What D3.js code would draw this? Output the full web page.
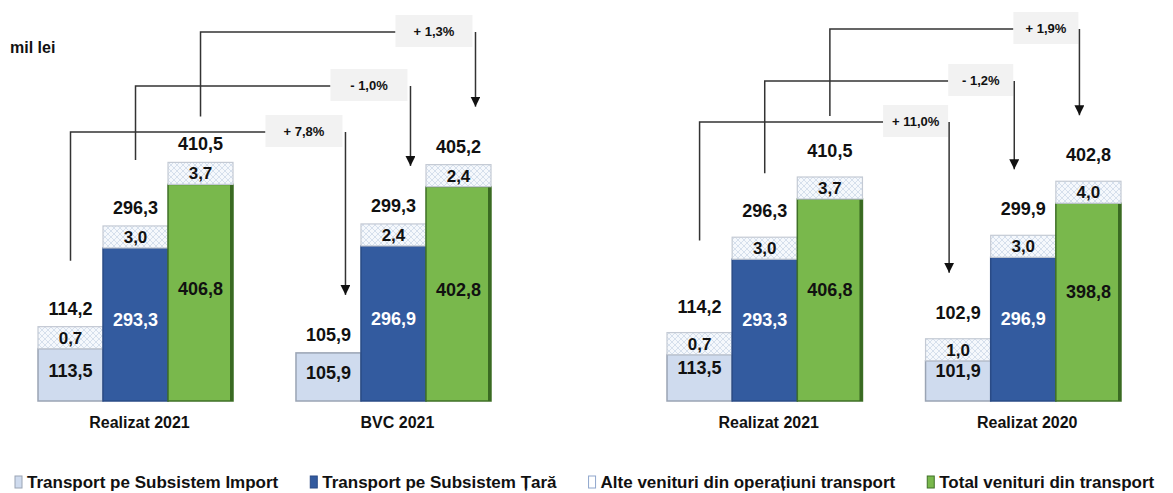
<!DOCTYPE html>
<html>
<head>
<meta charset="UTF-8"/>
<title>Venituri din transport</title>
<script src="https://cdn.jsdelivr.net/npm/d3@7"></script>
<style>
  body { margin: 0; background: #fff; }
  svg { display: block; }
  text { font-family: 'Liberation Sans', Arial, sans-serif; font-weight: bold; fill: #111; }
  .seg-label { font-size: 18px; }
  .box-label { font-size: 17px; }
  .tot-label { font-size: 18px; }
  .cat-label { font-size: 16px; }
  .pct-label { font-size: 13px; }
  .legend text { font-size: 17px; }
  .conn { fill: none; stroke: #333; stroke-width: 1.5; }
</style>
</head>
<body>
<svg id="chart" width="1173" height="493"></svg>
<script>
// categories, two panels of two groups each
const categories = ['Realizat 2021', 'BVC 2021', 'Realizat 2021', 'Realizat 2020'];
const seriesNames = ['Transport pe Subsistem Import', 'Transport pe Subsistem Țară',
                     'Alte venituri din operațiuni transport', 'Total venituri din transport'];
// main segment values (mil lei)
const importVals = [113.5, 105.9, 113.5, 101.9];
const taraVals   = [293.3, 296.9, 293.3, 296.9];
const totalVals  = [406.8, 402.8, 406.8, 398.8];
// "alte venituri" on top of each bar
const alteImport = [0.7, 0.0, 0.7, 1.0];
const alteTara   = [3.0, 2.4, 3.0, 3.0];
const alteTotal  = [3.7, 2.4, 3.7, 4.0];

const fmt = v => v.toFixed(1).replace('.', ',');
const fmtPct = v => (v >= 0 ? '+ ' : '- ') + Math.abs(v).toFixed(1).replace('.', ',') + '%';

const svg = d3.select('#chart');
const base = 401;
const boxH = 22;   // alte segments are drawn with a fixed visible height

const defs = svg.append('defs');
const pat = defs.append('pattern').attr('id', 'hatch')
  .attr('width', 6).attr('height', 6).attr('patternUnits', 'userSpaceOnUse');
pat.append('rect').attr('width', 6).attr('height', 6).attr('fill', '#f5f8fc');
pat.append('path').attr('d', 'M0,0L6,6M6,0L0,6').attr('stroke', '#cdd8e8').attr('stroke-width', 0.8);

defs.append('marker').attr('id', 'arrow')
  .attr('markerUnits', 'userSpaceOnUse')
  .attr('markerWidth', 10).attr('markerHeight', 11)
  .attr('refX', 5).attr('refY', 10)
  .attr('orient', 0)
  .append('path').attr('d', 'M0,0L10,0L5,10Z').attr('fill', '#111');

const series = [
  { key: 'imp',  vals: importVals, alte: alteImport, fill: '#cfdbee', stroke: '#9aa4b4', text: '#111' },
  { key: 'tara', vals: taraVals,   alte: alteTara,   fill: '#335b9f', stroke: '#2a4b86', text: '#fff' },
  { key: 'tot',  vals: totalVals,  alte: alteTotal,  fill: '#79b84c', stroke: '#3f7027', text: '#111' }
];

const panels = [
  { idx: [0, 1], x0: 38,  x1: 491,  domain: [20, 420], r1: 177, gapTot: 12, lblDy: 4,  endDx: 17, levels: [132, 86, 32], drop: [40, 40, 20], boxW: 77, boxGap: 3 },
  { idx: [2, 3], x0: 667, x1: 1121, domain: [26, 420], r1: 192, gapTot: 20, lblDy: 10, endDx: -9, levels: [122, 81, 29], drop: [58, 30, 27], boxW: 65, boxGap: 1 }
];

panels.forEach(p => {
  const g = svg.append('g');
  const gx = d3.scaleBand().domain(p.idx).range([p.x0, p.x1]).paddingInner(0.244).paddingOuter(0);
  const bx = d3.scaleBand().domain(series.map(s => s.key)).range([0, gx.bandwidth()]);
  const y = d3.scaleLinear().domain(p.domain).range([base, p.r1]);
  const bw = bx.bandwidth();

  const tops = {};   // top of each stack, for labels and arrows

  p.idx.forEach(i => {
    series.forEach(s => {
      const x = gx(i) + bx(s.key);
      const v = s.vals[i], a = s.alte[i];
      const yt = y(v);
      // main segment
      g.append('rect').attr('x', x).attr('y', yt).attr('width', bw).attr('height', base - yt)
        .attr('fill', s.fill).attr('stroke', s.stroke).attr('stroke-width', 1.5);
      if (s.key === 'tot') {
        g.append('line').attr('x1', x + bw - 1.5).attr('x2', x + bw - 1.5).attr('y1', yt).attr('y2', base)
          .attr('stroke', '#3a6a22').attr('stroke-width', 3);
      }
      g.append('text').attr('class', 'seg-label')
        .attr('x', x + bw / 2).attr('y', (yt + base) / 2 + 6 - p.lblDy)
        .attr('text-anchor', 'middle').style('fill', s.text).text(fmt(v));
      let top = yt;
      if (a > 0) {
        top = yt - boxH;
        g.append('rect').attr('x', x).attr('y', top).attr('width', bw).attr('height', boxH)
          .attr('fill', 'url(#hatch)').attr('stroke', '#c4cad4').attr('stroke-width', 1.2);
        g.append('text').attr('class', 'box-label')
          .attr('x', x + bw / 2).attr('y', top + boxH / 2 + 6)
          .attr('text-anchor', 'middle').text(fmt(a));
      }
      const ty = top - p.gapTot;
      g.append('text').attr('class', 'tot-label')
        .attr('x', x + bw / 2).attr('y', ty)
        .attr('text-anchor', 'middle').text(fmt(v + a));
      tops[i + s.key] = { cx: x + bw / 2, labelTop: ty - 14, total: v + a };
    });
    g.append('text').attr('class', 'cat-label')
      .attr('x', gx(i) + gx.bandwidth() / 2 + 4).attr('y', 428)
      .attr('text-anchor', 'middle').text(categories[i]);
  });

  // connectors with percentage change between the two groups
  const [a, b] = p.idx;
  series.forEach((s, k) => {
    const from = tops[a + s.key], to = tops[b + s.key];
    const lvl = p.levels[k];
    const endX = to.cx + p.endDx;
    const boxR = endX - p.boxGap, boxL = boxR - p.boxW;
    g.append('path').attr('class', 'conn')
      .attr('d', `M${from.cx},${from.labelTop - p.drop[k]}V${lvl}H${boxL}`);
    g.append('rect').attr('x', boxL).attr('y', lvl - 17).attr('width', p.boxW).attr('height', 32)
      .attr('fill', '#f2f2f2');
    g.append('text').attr('class', 'pct-label')
      .attr('x', boxL + p.boxW / 2).attr('y', lvl + 4).attr('text-anchor', 'middle')
      .text(fmtPct((from.total / to.total - 1) * 100));
    g.append('path').attr('class', 'conn')
      .attr('d', `M${endX},${lvl}V${to.labelTop - 32}`)
      .attr('marker-end', 'url(#arrow)');
  });
});

svg.append('text').attr('x', 10).attr('y', 53).style('font-size', '16px').text('mil lei');

// legend
const legend = svg.append('g').attr('class', 'legend');
const lfills = ['#cfdbee', '#335b9f', '#ffffff', '#79b84c'];
const lstrokes = ['#9aa4b4', '#2a4b86', '#8fa6cc', '#3f7027'];
let lx = 15;
seriesNames.forEach((n, i) => {
  legend.append('rect').attr('x', lx).attr('y', 476).attr('width', 7).attr('height', 12)
    .attr('fill', lfills[i]).attr('stroke', lstrokes[i]).attr('stroke-width', 1);
  const t = legend.append('text').attr('x', lx + 12).attr('y', 488).text(n);
  lx += 12 + t.node().getComputedTextLength() + 32;
});
</script>
</body>
</html>
